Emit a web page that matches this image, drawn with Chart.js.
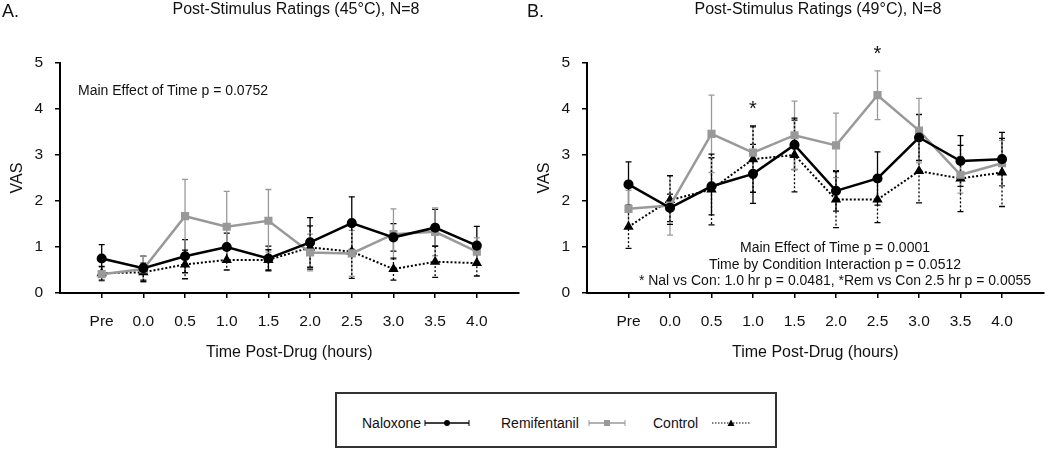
<!DOCTYPE html>
<html>
<head>
<meta charset="utf-8">
<script src="https://cdn.jsdelivr.net/npm/chart.js@4.4.1/dist/chart.umd.min.js"></script>
<style>
  body { margin: 0; background: #fff; font-family: "Liberation Sans", Arial, sans-serif; }
  #wrap { position: relative; width: 1050px; height: 449px; overflow: hidden; }
  .cv { position: absolute; top: 0; }
  .txt { position: absolute; white-space: nowrap; color: #111; }
  .ctr { transform: translateX(-50%); text-align: center; }
  #legend { position: absolute; left: 335px; top: 392px; width: 438px; height: 52px;
            border: 2px solid #333; font-size: 14px; color: #111; }
  #legend span { position: absolute; top: 21px; line-height: 16px; }
  #legend svg { position: absolute; top: 25px; }
</style>
</head>
<body>
<div id="wrap">
  <div class="cv" style="left:0;width:525px;height:375px"><canvas id="chartA"></canvas></div>
  <div class="cv" style="left:527px;width:523px;height:375px"><canvas id="chartB"></canvas></div>

  <div class="txt" style="left:2px;top:0;font-size:18px;line-height:22px">A.</div>
  <div class="txt ctr" style="left:296px;top:0;font-size:16px;line-height:18px">Post-Stimulus Ratings (45°C), N=8</div>
  <div class="txt" style="left:527px;top:0;font-size:18px;line-height:22px">B.</div>
  <div class="txt ctr" style="left:818px;top:0;font-size:16px;line-height:18px">Post-Stimulus Ratings (49°C), N=8</div>

  <div class="txt" style="left:78px;top:81px;font-size:14px;line-height:18px">Main Effect of Time p = 0.0752</div>
  <div class="txt ctr" style="left:835px;top:239px;font-size:14px;line-height:16.5px">
    Main Effect of Time p = 0.0001<br>
    Time by Condition Interaction p = 0.0512<br>
    * Nal vs Con: 1.0 hr p = 0.0481, *Rem vs Con 2.5 hr p = 0.0055
  </div>

  <div id="legend">
    <span style="left:25px">Naloxone</span>
    <svg style="left:87px" width="46" height="8"><line x1="1" y1="4" x2="45" y2="4" stroke="#000" stroke-width="1.5"/><line x1="1" y1="1" x2="1" y2="7" stroke="#000"/><line x1="45" y1="1" x2="45" y2="7" stroke="#000"/><circle cx="23" cy="4" r="3" fill="#000"/></svg>
    <span style="left:164px">Remifentanil</span>
    <svg style="left:251px" width="38" height="8"><line x1="1" y1="4" x2="37" y2="4" stroke="#999" stroke-width="1.5"/><line x1="1" y1="1" x2="1" y2="7" stroke="#999"/><line x1="37" y1="1" x2="37" y2="7" stroke="#999"/><rect x="16" y="1" width="6" height="6" fill="#999"/></svg>
    <span style="left:316px">Control</span>
    <svg style="left:374px" width="40" height="8"><line x1="1" y1="4" x2="39" y2="4" stroke="#000" stroke-width="1" stroke-dasharray="1.5,1.5"/><polygon points="20,0.5 23.5,7 16.5,7" fill="#000"/></svg>
  </div>
</div>

<script>
// categories
var timeLabels = ['Pre', '0.0', '0.5', '1.0', '1.5', '2.0', '2.5', '3.0', '3.5', '4.0'];
var yTicks = [0, 1, 2, 3, 4, 5];

// 45°C means and error bars
var nal45 = [0.75, 0.54, 0.80, 1.00, 0.75, 1.10, 1.52, 1.21, 1.42, 1.03];
var nal45Err = [0.30, 0.26, 0.36, 0.30, 0.27, 0.54, 0.57, 0.30, 0.40, 0.42];
var rem45 = [0.41, 0.52, 1.67, 1.44, 1.57, 0.88, 0.86, 1.28, 1.33, 0.90];
var rem45Err = [0.15, 0.28, 0.80, 0.77, 0.68, 0.40, 0.50, 0.55, 0.52, 0.30];
var con45 = [0.43, 0.45, 0.62, 0.72, 0.72, 0.99, 0.90, 0.52, 0.68, 0.65];
var con45Err = [0.15, 0.20, 0.31, 0.22, 0.22, 0.47, 0.58, 0.24, 0.34, 0.28];

// 49°C means and error bars
var nal49 = [2.36, 1.85, 2.32, 2.59, 3.22, 2.22, 2.49, 3.38, 2.87, 2.91];
var nal49Err = [0.49, 0.30, 0.62, 0.64, 0.54, 0.44, 0.58, 0.50, 0.55, 0.58];
var rem49 = [1.83, 1.90, 3.46, 3.05, 3.43, 3.21, 4.30, 3.53, 2.57, 2.82];
var rem49Err = [0.40, 0.64, 0.84, 0.55, 0.74, 0.70, 0.53, 0.70, 0.40, 0.50];
var con49 = [1.44, 2.02, 2.25, 2.91, 3.00, 2.03, 2.03, 2.65, 2.49, 2.62];
var con49Err = [0.47, 0.53, 0.77, 0.72, 0.80, 0.61, 0.50, 0.69, 0.72, 0.74];

// significance stars (x index, y value)
var stars49 = [{ x: 3, y: 4.0 }, { x: 6, y: 5.18 }];

var FONT = '"Liberation Sans", Arial, sans-serif';
var GRAY = '#999999';

function pts(arr) {
  return arr.map(function(v, i) { return { x: i, y: v }; });
}

// vertical error bars, drawn under the lines
var errorBars = {
  id: 'errorBars',
  beforeDatasetsDraw: function(chart) {
    var ctx = chart.ctx, xs = chart.scales.x, ys = chart.scales.y;
    chart.data.datasets.forEach(function(ds) {
      ctx.save();
      ctx.strokeStyle = ds.borderColor;
      ctx.lineWidth = 1.3;
      ds.data.forEach(function(p, i) {
        var e = ds.errors[i];
        var px = xs.getPixelForValue(p.x);
        var t = ys.getPixelForValue(p.y + e), b = ys.getPixelForValue(p.y - e);
        ctx.setLineDash(ds.dotted ? [2, 2] : []);
        ctx.beginPath(); ctx.moveTo(px, t); ctx.lineTo(px, b); ctx.stroke();
        ctx.setLineDash([]);
        ctx.beginPath();
        ctx.moveTo(px - 3, t); ctx.lineTo(px + 3, t);
        ctx.moveTo(px - 3, b); ctx.lineTo(px + 3, b);
        ctx.stroke();
      });
      ctx.restore();
    });
  }
};

var starPlugin = {
  id: 'stars',
  afterDraw: function(chart, args, opts) {
    if (!opts.items) return;
    var ctx = chart.ctx;
    ctx.save();
    ctx.fillStyle = '#111';
    ctx.font = '20px ' + FONT;
    ctx.textAlign = 'center';
    ctx.textBaseline = 'middle';
    opts.items.forEach(function(s) {
      ctx.fillText('*', chart.scales.x.getPixelForValue(s.x), chart.scales.y.getPixelForValue(s.y));
    });
    ctx.restore();
  }
};

function makeChart(id, nal, nalErr, rem, remErr, con, conErr, padRight, stars) {
  var ctx = document.getElementById(id).getContext('2d');
  return new Chart(ctx, {
    type: 'line',
    data: {
      datasets: [
        { label: 'Naloxone', data: pts(nal), errors: nalErr, borderColor: '#000', backgroundColor: '#000',
          borderWidth: 2.5, pointStyle: 'circle', pointRadius: 3.8, tension: 0 },
        { label: 'Remifentanil', data: pts(rem), errors: remErr, borderColor: GRAY, backgroundColor: GRAY,
          borderWidth: 2.5, pointStyle: 'rect', pointRadius: 4, tension: 0 },
        { label: 'Control', data: pts(con), errors: conErr, dotted: true, borderColor: '#000', backgroundColor: '#000',
          borderWidth: 2, borderDash: [2, 2], pointStyle: 'triangle', pointRadius: 4, tension: 0 }
      ]
    },
    options: {
      responsive: true,
      maintainAspectRatio: false,
      animation: false,
      layout: { padding: { top: 63, right: padRight, bottom: 0, left: 0 } },
      plugins: { legend: { display: false }, tooltip: { enabled: false }, stars: { items: stars } },
      scales: {
        x: {
          type: 'linear', min: -1, max: 10,
          afterBuildTicks: function(scale) {
            scale.ticks = timeLabels.map(function(l, i) { return { value: i }; });
          },
          afterFit: function(scale) { scale.height = 82; },
          ticks: { callback: function(v) { return timeLabels[v]; }, color: '#111',
                   font: { size: 15.5, family: FONT }, padding: 14, maxRotation: 0, autoSkip: false },
          grid: { drawOnChartArea: false, color: '#000', tickLength: 5, lineWidth: 1.5 },
          border: { color: '#000', width: 2 },
          title: { display: true, text: 'Time Post-Drug (hours)', color: '#111',
                   font: { size: 16, family: FONT }, padding: { top: 4, bottom: 13 } }
        },
        y: {
          min: 0, max: 5,
          afterBuildTicks: function(scale) {
            scale.ticks = yTicks.map(function(v) { return { value: v }; });
          },
          afterFit: function(scale) { scale.width = 60; },
          ticks: { color: '#111', font: { size: 15.5, family: FONT }, padding: 12 },
          grid: { drawOnChartArea: false, color: '#000', tickLength: 5, lineWidth: 1.5 },
          border: { color: '#000', width: 2 },
          title: { display: true, text: 'VAS', color: '#111',
                   font: { size: 16, family: FONT }, padding: { top: 8, bottom: 4 } }
        }
      }
    },
    plugins: [errorBars, starPlugin]
  });
}

makeChart('chartA', nal45, nal45Err, rem45, rem45Err, con45, con45Err, 3, null);
makeChart('chartB', nal49, nal49Err, rem49, rem49Err, con49, con49Err, 1, stars49);
</script>
</body>
</html>
